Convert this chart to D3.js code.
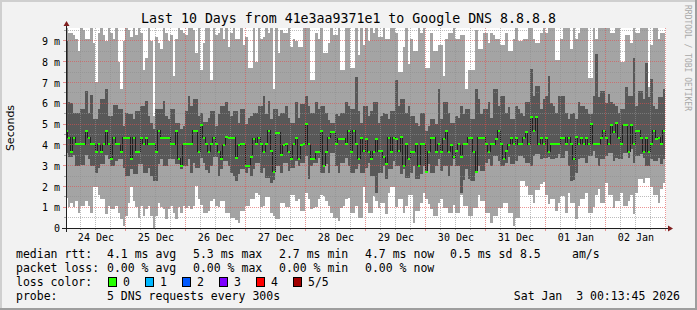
<!DOCTYPE html>
<html>
<head>
<meta charset="utf-8">
<script src="https://cdn.jsdelivr.net/npm/d3@7"></script>
<style>
  body { margin: 0; background: #f2f2f2; }
  svg { display: block; }
  text { font-family: "DejaVu Sans Mono", monospace; fill: #000; white-space: pre; }
</style>
</head>
<body>
<svg id="smoke" width="697" height="310"></svg>
<script>
// one column per hour, 24 Dec 00:00 .. 02 Jan 23:00, values in ms
// smoke: lo/hi = fastest/slowest ping, q1/q3 = 2nd/4th ping, med = median
// hi of 10 means the slowest ping is above the top of the graph
const rttLow = [
  1.45,1.0,1.2,1.0,1.3,0.74,1.06,1.06,1.3,1.06,0.74,1.95,1.95,1.6,1.38,1.38,0.66,1.06,0.9,0.9,1.06,0.74,0.45,0.1,0.6,1.2,1.95,1.3,1.0,0.5,1.06,0.6,0.9,1.06,0.6,0.0,0.6,1.2,1.0,0.9,0.45,0.9,1.06,0.74,0.42,1.0,0.74,1.06,
  0.95,1.06,0.9,1.06,2.0,1.4,1.1,0.74,0.74,0.8,1.3,1.4,1.06,1.0,1.3,1.3,0.74,0.74,0.5,0.5,0.4,0.25,0.82,0.82,1.06,1.06,1.38,1.38,1.7,1.6,1.0,1.06,1.5,1.5,0.74,0.6,0.42,0.42,1.2,1.2,1.0,1.0,1.6,1.6,1.3,1.38,0.8,0.8,
  1.7,1.38,0.9,0.95,1.0,1.38,1.6,1.55,1.3,1.06,0.74,0.5,0.5,0.35,0.95,1.06,1.38,1.45,0.74,0.74,1.06,0.5,0.5,1.95,1.2,0.74,0.74,1.55,1.3,0.95,1.2,1.2,0.65,1.7,1.95,1.95,1.0,1.38,1.38,0.74,1.06,1.6,1.6,0.25,0.82,0.82,1.2,1.7,
  1.38,1.15,0.9,0.6,0.6,1.2,1.38,0.95,0.95,0.74,0.74,1.1,0.74,0.74,1.6,1.06,1.06,0.58,0.58,0.95,0.95,1.6,1.3,1.3,0.74,0.74,0.26,0.58,0.58,0.95,0.95,1.2,1.2,0.74,0.74,0.1,0.5,0.5,2.26,2.26,2.0,1.6,1.6,1.2,1.85,1.85,2.1,2.2,
  1.6,1.15,1.4,1.4,0.82,1.2,1.55,1.55,0.74,1.7,1.2,1.2,0.42,1.06,1.38,1.38,1.7,0.74,0.74,1.0,1.6,1.86,1.2,1.2,2.18,1.6,1.6,0.95,1.3,1.3,1.7,1.06,1.06,1.3,1.6,0.66,1.7,2.34,2.34,2.18,2.42,2.42,1.95,1.6,1.6,1.2,1.86,2.18
];
const rttQ1 = [
  3.6,3.4,3.4,3.5,2.99,2.99,3.05,3.05,3.5,3.3,2.99,2.99,2.66,2.9,3.1,3.1,3.5,3.34,2.99,2.99,3.2,3.34,3.34,2.9,2.5,2.5,2.82,2.58,2.58,3.1,3.1,2.66,2.66,2.9,2.5,2.26,2.26,3.1,3.34,2.99,2.99,3.3,3.34,3.34,3.1,3.1,2.82,2.99,
  2.99,3.3,2.66,3.15,2.9,2.9,3.38,3.15,2.8,2.66,2.99,3.4,3.4,2.5,2.82,3.2,3.2,2.99,2.66,2.5,2.26,2.58,2.82,2.82,2.66,2.9,2.5,2.82,3.15,3.15,2.66,2.9,2.42,2.42,2.18,2.3,2.99,2.99,2.66,3.15,3.15,2.74,2.9,2.9,3.2,2.99,3.15,3.15,
  3.47,2.34,2.99,3.15,3.15,3.38,2.66,2.66,3.07,2.66,3.6,3.6,2.99,2.66,3.15,3.15,3.38,2.99,2.66,2.66,2.82,3.07,2.66,2.66,2.9,3.15,2.5,2.5,1.7,2.66,2.66,2.99,2.34,2.82,2.82,3.2,2.99,2.99,2.58,2.82,2.42,2.42,2.66,2.99,2.34,2.34,2.58,2.99,
  2.66,3.07,2.66,2.66,2.99,3.3,2.74,2.99,2.99,2.5,2.99,3.3,2.99,2.99,1.7,2.3,2.82,2.34,2.26,2.26,2.66,2.99,2.74,2.74,3.15,3.3,2.99,3.47,3.47,3.2,2.99,2.99,3.15,3.4,3.1,3.1,3.2,3.47,3.47,3.38,3.15,3.15,2.99,3.47,3.55,3.55,3.3,3.38,
  3.38,3.4,3.3,3.3,3.38,3.55,3.38,3.38,3.7,2.99,2.26,2.3,2.66,3.3,3.38,3.38,3.15,3.47,3.47,3.7,3.38,2.99,3.3,3.3,3.47,3.6,3.6,3.23,3.38,3.3,3.3,3.6,3.6,3.38,3.8,3.15,3.47,3.47,3.55,3.38,2.99,2.99,3.3,3.23,3.23,3.38,3.07,3.3
];
const rttMedian = [
  4.67,4.35,3.66,4.35,4.03,4.03,4.03,4.03,4.67,4.35,4.03,4.03,3.66,4.03,3.66,4.03,4.67,4.03,3.34,4.35,4.03,4.03,3.66,4.35,4.35,4.35,3.34,4.35,3.66,3.66,4.35,4.03,4.35,4.03,4.03,4.03,3.66,4.67,4.35,4.35,4.35,4.35,4.03,4.03,4.67,3.34,2.99,4.03,
  4.03,4.03,4.03,4.67,4.67,3.66,4.96,4.35,4.03,3.66,4.03,4.35,4.03,3.66,3.34,4.0,4.4,4.35,4.35,4.35,3.38,3.98,4.03,4.03,2.99,2.99,3.4,4.3,4.03,4.35,4.03,3.66,4.03,4.67,3.7,2.7,4.59,4.59,3.5,3.98,4.03,3.66,3.34,4.03,4.35,3.34,3.98,4.03,
  5.0,4.03,3.34,3.34,3.66,3.66,4.67,2.99,3.66,4.35,4.6,4.6,4.03,4.3,4.3,4.3,4.03,4.67,3.66,4.67,4.03,3.34,4.35,3.7,4.3,3.66,3.34,3.66,4.3,3.7,3.7,3.4,3.07,4.35,3.66,4.35,4.3,3.7,4.4,2.99,4.03,3.34,3.66,3.66,4.03,2.99,4.03,4.03,
  2.7,3.66,4.35,4.35,3.66,4.03,3.66,4.3,4.67,3.66,4.0,3.4,3.7,4.03,3.4,4.03,4.03,4.35,4.35,3.66,2.7,4.35,4.35,4.35,4.03,3.66,4.03,4.03,4.3,4.67,4.03,3.34,3.7,4.0,4.35,4.03,4.35,4.03,4.03,4.35,4.6,4.03,5.36,4.67,5.36,4.03,4.35,4.03,
  4.35,3.66,4.03,4.03,4.03,4.03,4.35,4.35,4.03,4.35,4.03,3.3,4.4,4.03,4.35,4.03,4.35,4.03,5.02,4.03,4.03,4.03,4.35,4.67,4.35,4.03,4.96,4.6,5.07,4.35,4.03,4.96,4.96,3.66,4.96,4.03,4.67,4.67,4.35,3.66,4.35,3.66,4.03,4.67,4.3,4.35,4.03,4.67
];
const rttQ3 = [
  9.0,6.04,6.0,5.55,5.55,5.55,5.71,5.71,6.6,5.55,6.4,5.23,5.23,5.71,6.2,6.2,6.7,5.39,5.39,5.9,5.9,5.71,5.71,4.91,5.55,5.47,5.47,5.23,5.63,5.63,5.87,5.87,6.1,5.39,5.07,4.75,5.71,5.71,5.71,6.1,5.39,5.23,5.71,5.71,5.07,5.07,4.75,4.91,
  5.63,6.36,5.87,6.2,6.2,5.39,5.55,5.1,5.1,5.3,5.63,5.63,4.91,5.47,5.87,5.87,6.04,5.63,5.39,5.63,5.63,5.07,5.71,5.71,4.99,5.3,5.39,5.55,5.55,5.87,5.87,6.36,5.47,6.12,5.23,5.71,5.71,5.39,5.55,5.55,5.87,5.3,5.07,5.07,6.04,5.3,5.95,5.95,
  6.36,5.87,5.55,5.55,6.04,5.71,5.87,5.87,5.55,5.2,5.07,5.07,5.47,5.39,5.55,5.55,6.04,5.87,5.71,5.71,7.24,5.63,5.07,5.87,5.87,5.39,5.63,6.04,6.04,5.07,5.39,5.55,5.47,5.23,5.63,5.63,7.1,5.87,6.2,6.2,5.55,5.87,5.39,5.39,5.07,4.91,5.55,5.55,
  4.67,4.91,5.23,5.23,5.0,6.68,5.23,6.04,6.04,5.55,5.07,5.07,5.39,5.3,5.87,5.5,5.71,5.71,5.23,5.23,6.68,6.2,5.5,5.71,5.71,6.04,5.3,6.68,6.68,5.87,6.36,6.36,5.55,5.8,5.23,5.23,5.87,5.71,5.55,5.39,6.04,6.04,7.64,6.36,6.84,6.84,5.71,6.2,
  6.36,7.3,6.0,5.87,5.55,6.36,6.36,6.36,5.55,5.23,5.47,5.55,5.23,6.04,5.87,5.87,5.71,5.47,5.47,6.36,8.36,6.28,6.6,6.6,6.0,6.44,6.04,5.95,5.87,5.55,5.71,5.71,6.76,6.36,6.36,8.2,5.87,6.6,6.6,6.2,7.96,6.3,7.16,5.87,5.71,6.28,6.28,6.68
];
const rttHigh = [
  10,9.4,9.4,9.3,9.1,8.5,10,9.5,9.1,9.1,10,8.9,7.0,9.4,10,9.3,9.0,10,9.4,9.1,10,8.0,6.7,9.0,10,9.5,9.2,10,9.3,10,9.4,7.6,8.2,10,9.0,5.4,9.2,8.9,8.6,10,9.4,9.0,9.3,7.3,9.1,10,9.5,9.4,
  9.3,10,10,9.5,8.4,10,7.6,8.9,10,9.6,7.1,10,9.3,9.4,10,9.1,10,8.7,9.4,10,9.1,9.1,10,8.8,9.2,7.7,7.7,10,8.0,10,9.1,9.2,10,9.4,10,6.7,10,8.4,9.5,9.4,9.4,10,8.7,9.1,9.0,8.7,8.7,10,
  10,10,7.1,7.1,9.4,9.1,10,8.4,8.4,8.9,10,9.3,9.3,10,7.6,7.6,10,10,7.7,7.7,10,8.3,10,8.8,10,9.0,10,9.4,10,9.2,9.2,10,9.1,9.1,10,10,9.4,7.5,7.5,8.7,10,7.9,9.1,8.5,8.5,10,9.4,10,
  7.7,7.7,9.4,8.5,8.5,8.8,8.8,7.3,9.1,9.4,9.4,10,9.1,9.1,9.3,9.3,6.68,7.6,7.6,7.6,9.5,8.6,8.6,9.4,9.4,8.9,9.4,9.3,9.1,9.1,8.8,8.8,9.4,8.5,8.5,9.1,10,9.0,9.0,9.1,9.1,10,10,9.1,8.9,8.9,9.4,10,
  9.4,10,10,10,8.1,8.1,9.1,10,10,10,8.6,10,9.1,9.4,10,10,10,7.2,7.2,10,9.1,10,10,10,10,10,9.4,9.4,10,10,8.0,8.0,9.3,9.3,8.9,10,9.4,9.4,10,10,10,6.76,8.8,10,10,9.1,9.4,9.4
];

const yTicks = [0, 1, 2, 3, 4, 5, 6, 7, 8, 9];
const yTickLabels = ["0", "1 m", "2 m", "3 m", "4 m", "5 m", "6 m", "7 m", "8 m", "9 m"];
const dayLabels = ["24 Dec", "25 Dec", "26 Dec", "27 Dec", "28 Dec", "29 Dec", "30 Dec", "31 Dec", "01 Jan", "02 Jan"];

const rttStats = ["4.1 ms avg", "5.3 ms max", "2.7 ms min", "4.7 ms now", "0.5 ms sd", "8.5", "am/s"];
const lossStats = ["0.00 % avg", "0.00 % max", "0.00 % min", "0.00 % now"];
const lossLabels = ["0", "1", "2", "3", "4", "5/5"];
const lossColors = ["#26ff00", "#00b8ff", "#0059ff", "#7e00ff", "#ff0000", "#a10000"];

const titleText = "Last 10 Days from 41e3aa9371e1 to Google DNS 8.8.8.8";
const probeText = "5 DNS requests every 300s";
const stampText = "Sat Jan  3 00:13:45 2026";

const startTime = new Date(Date.UTC(2025, 11, 24, 0, 13, 45));
const endTime = new Date(Date.UTC(2026, 0, 3, 0, 13, 45));

const width = 697, height = 310;
const plot = { left: 66, top: 28, width: 600, height: 200 };
const bottom = plot.top + plot.height;

const svg = d3.select("#smoke");

const x = d3.scaleUtc()
  .domain([startTime, endTime])
  .range([plot.left, plot.left + plot.width]);

const y = d3.scaleLinear()
  .domain([0, 9.62])
  .range([bottom, plot.top]);

const hours = d3.utcHours(d3.utcHour.floor(startTime), d3.utcHour.floor(endTime));
const rows = hours.map((t, i) => ({
  t, t1: d3.utcHour.offset(t, 1),
  lo: rttLow[i], q1: rttQ1[i], med: rttMedian[i], q3: rttQ3[i], hi: rttHigh[i]
}));

// dotted patterns for the grid (one pixel on, one off)
const defs = svg.append("defs");
const dotPattern = (id, w, h, color) => defs.append("pattern")
  .attr("id", id).attr("patternUnits", "userSpaceOnUse")
  .attr("width", w).attr("height", h)
  .append("rect").attr("width", 1).attr("height", 1).attr("fill", color);
const minorCol = "rgba(143,143,143,0.6)";
const majorCol = "rgba(222,79,79,0.6)";
dotPattern("minorH", 2, 1, minorCol);
dotPattern("minorV", 1, 2, minorCol);
dotPattern("majorH", 2, 1, majorCol);
dotPattern("majorV", 1, 2, majorCol);

// background + 3d frame
svg.append("rect").attr("width", width).attr("height", height).attr("fill", "#f2f2f2");
svg.append("path").attr("d", `M1,${height} V1 H${width}`)
  .attr("fill", "none").attr("stroke", "#cfcfcf").attr("stroke-width", 2);
svg.append("path").attr("d", `M${width - 1},0 V${height - 1} H0`)
  .attr("fill", "none").attr("stroke", "#9e9e9e").attr("stroke-width", 2);

svg.append("rect")
  .attr("x", plot.left).attr("y", plot.top)
  .attr("width", plot.width).attr("height", plot.height)
  .attr("fill", "#fff");

defs.append("clipPath").attr("id", "plotclip")
  .append("rect")
  .attr("x", plot.left).attr("y", plot.top)
  .attr("width", plot.width).attr("height", plot.height);

const g = svg.append("g").attr("clip-path", "url(#plotclip)").attr("shape-rendering", "crispEdges");

// outer smoke: fastest .. slowest
g.selectAll(".outer").data(rows).join("rect")
  .attr("class", "outer")
  .attr("x", d => x(d.t))
  .attr("width", d => x(d.t1) - x(d.t))
  .attr("y", d => y(d.hi))
  .attr("height", d => y(d.lo) - y(d.hi))
  .attr("fill", "#a4a4a4");

// inner smoke: 2nd .. 4th ping
g.selectAll(".inner").data(rows).join("rect")
  .attr("class", "inner")
  .attr("x", d => x(d.t))
  .attr("width", d => x(d.t1) - x(d.t))
  .attr("y", d => y(d.q3))
  .attr("height", d => y(d.q1) - y(d.q3))
  .attr("fill", "#585858");

// median as a step line
const medPts = rows.map(d => [x(d.t), y(d.med)]);
medPts.push([x(rows[rows.length - 1].t1), y(rows[rows.length - 1].med)]);
g.append("path")
  .attr("d", d3.line().curve(d3.curveStepAfter)(medPts))
  .attr("fill", "none")
  .attr("stroke", "#202020")
  .attr("stroke-width", 1);

// dotted grid on top of the smoke
const grid = svg.append("g").attr("shape-rendering", "crispEdges");
const pf = v => Math.floor(v);

const minorTimes = d3.utcHour.every(6).range(startTime, endTime).filter(d => d.getUTCHours() !== 0);
const dayTimes = d3.utcDay.range(startTime, endTime);
const halfTicks = yTicks.map(v => v + 0.5);

grid.selectAll(".vminor").data(minorTimes).join("rect")
  .attr("x", d => pf(x(d))).attr("width", 1)
  .attr("y", plot.top).attr("height", plot.height)
  .attr("fill", "url(#minorV)");
grid.selectAll(".hminor").data(halfTicks).join("rect")
  .attr("x", plot.left).attr("width", plot.width)
  .attr("y", d => pf(y(d))).attr("height", 1)
  .attr("fill", "url(#minorH)");
grid.selectAll(".vmajor").data(dayTimes).join("rect")
  .attr("x", d => pf(x(d))).attr("width", 1)
  .attr("y", plot.top).attr("height", plot.height)
  .attr("fill", "url(#majorV)");
grid.selectAll(".hmajor").data(yTicks.slice(1)).join("rect")
  .attr("x", plot.left).attr("width", plot.width)
  .attr("y", d => pf(y(d))).attr("height", 1)
  .attr("fill", "url(#majorH)");

// median marks coloured by loss (all 0 loss here), above the grid
const pxValue = y.domain()[1] / plot.height;
svg.append("g").attr("clip-path", "url(#plotclip)").attr("shape-rendering", "crispEdges")
  .selectAll(".med").data(rows).join("rect")
  .attr("class", "med")
  .attr("x", d => x(d.t))
  .attr("width", d => x(d.t1) - x(d.t))
  .attr("y", d => y(d.med + pxValue))
  .attr("height", d => y(d.med - pxValue) - y(d.med + pxValue))
  .attr("fill", lossColors[0]);

// small ticks on the axes
const px = v => Math.floor(v) + 0.5;
const ticks = svg.append("g").attr("shape-rendering", "crispEdges");
ticks.selectAll(".tx").data(minorTimes).join("line")
  .attr("x1", d => px(x(d))).attr("x2", d => px(x(d)))
  .attr("y1", bottom).attr("y2", bottom + 2)
  .attr("stroke", "rgba(143,143,143,0.75)");
ticks.selectAll(".txm").data(dayTimes).join("line")
  .attr("x1", d => px(x(d))).attr("x2", d => px(x(d)))
  .attr("y1", bottom).attr("y2", bottom + 3)
  .attr("stroke", "rgba(222,79,79,0.6)");
ticks.selectAll(".ty").data(halfTicks).join("line")
  .attr("x1", plot.left - 2).attr("x2", plot.left)
  .attr("y1", d => px(y(d))).attr("y2", d => px(y(d)))
  .attr("stroke", "rgba(143,143,143,0.75)");
ticks.selectAll(".tym").data(yTicks).join("line")
  .attr("x1", plot.left - 3).attr("x2", plot.left)
  .attr("y1", d => px(y(d))).attr("y2", d => px(y(d)))
  .attr("stroke", "rgba(222,79,79,0.6)");

// axis lines + arrows
const ax = svg.append("g").attr("shape-rendering", "crispEdges");
ax.append("line")
  .attr("x1", plot.left - 4).attr("x2", plot.left + plot.width + 4)
  .attr("y1", bottom + 0.5).attr("y2", bottom + 0.5)
  .attr("stroke", "#1f1f1f");
ax.append("line")
  .attr("x1", plot.left + 0.5).attr("x2", plot.left + 0.5)
  .attr("y1", bottom + 4).attr("y2", plot.top - 4)
  .attr("stroke", "#1f1f1f");
const xr = plot.left + plot.width;
svg.append("path")
  .attr("d", `M${xr + 2},${bottom - 2.5} L${xr + 2},${bottom + 3.5} L${xr + 7},${bottom + 0.5} Z`)
  .attr("fill", "#801f1f");
svg.append("path")
  .attr("d", `M${plot.left - 2.5},${plot.top - 2} L${plot.left + 3.5},${plot.top - 2} L${plot.left + 0.5},${plot.top - 7} Z`)
  .attr("fill", "#801f1f");

// axis labels via d3 axes, lines hidden
const yAxis = d3.axisLeft(y)
  .tickValues(yTicks)
  .tickSize(0)
  .tickPadding(6)
  .tickFormat((d, i) => yTickLabels[i]);
svg.append("g")
  .attr("transform", `translate(${plot.left},0.5)`)
  .call(yAxis)
  .call(s => s.select(".domain").remove())
  .call(s => s.selectAll("text").attr("font-family", "DejaVu Sans Mono").attr("font-size", 10).attr("fill", "#000"));

const noonTimes = d3.utcDay.range(d3.utcDay.floor(startTime), d3.utcDay.floor(endTime)).map(d => d3.utcHour.offset(d, 12));
const xAxis = d3.axisBottom(x)
  .tickValues(noonTimes)
  .tickSize(0)
  .tickPadding(6)
  .tickFormat((d, i) => dayLabels[i]);
svg.append("g")
  .attr("transform", `translate(0,${bottom})`)
  .call(xAxis)
  .call(s => s.select(".domain").remove())
  .call(s => s.selectAll("text").attr("font-family", "DejaVu Sans Mono").attr("font-size", 10).attr("fill", "#000"));

// title, y label, watermark
svg.append("text")
  .attr("x", width / 2).attr("y", 22.5)
  .attr("text-anchor", "middle")
  .attr("font-size", 13.25)
  .text(titleText);

svg.append("text")
  .attr("transform", `translate(14,${plot.top + plot.height / 2}) rotate(-90)`)
  .attr("text-anchor", "middle")
  .style("font-family", "'DejaVu Sans', sans-serif")
  .attr("font-size", 11)
  .text("Seconds");

svg.append("text")
  .attr("transform", `translate(685,5) rotate(90)`)
  .attr("font-size", 8)
  .style("fill", "#a8a8a8")
  .text("RRDTOOL / TOBI OETIKER");

// legend
const legend = svg.append("g").attr("font-size", 11.5);
const statX = [107, 193, 279, 365, 450, 520, 572];
const rowY = [258, 272, 286, 300];

legend.append("text").attr("x", 16).attr("y", rowY[0]).text("median rtt:");
rttStats.forEach((s, i) => legend.append("text").attr("x", statX[i]).attr("y", rowY[0]).text(s));

legend.append("text").attr("x", 16).attr("y", rowY[1]).text("packet loss:");
lossStats.forEach((s, i) => legend.append("text").attr("x", statX[i]).attr("y", rowY[1]).text(s));

legend.append("text").attr("x", 16).attr("y", rowY[2]).text("loss color:");
const boxX = [108, 145, 182, 219, 256, 293];
lossLabels.forEach((s, i) => {
  legend.append("rect")
    .attr("x", boxX[i] + 0.5).attr("y", rowY[2] - 8.5)
    .attr("width", 8).attr("height", 9)
    .attr("fill", lossColors[i])
    .attr("stroke", "#000");
  legend.append("text").attr("x", boxX[i] + 15).attr("y", rowY[2]).text(s);
});

legend.append("text").attr("x", 16).attr("y", rowY[3]).text("probe:");
legend.append("text").attr("x", statX[0]).attr("y", rowY[3]).text(probeText);
legend.append("text").attr("x", 680).attr("y", rowY[3]).attr("text-anchor", "end").text(stampText);
</script>
</body>
</html>
